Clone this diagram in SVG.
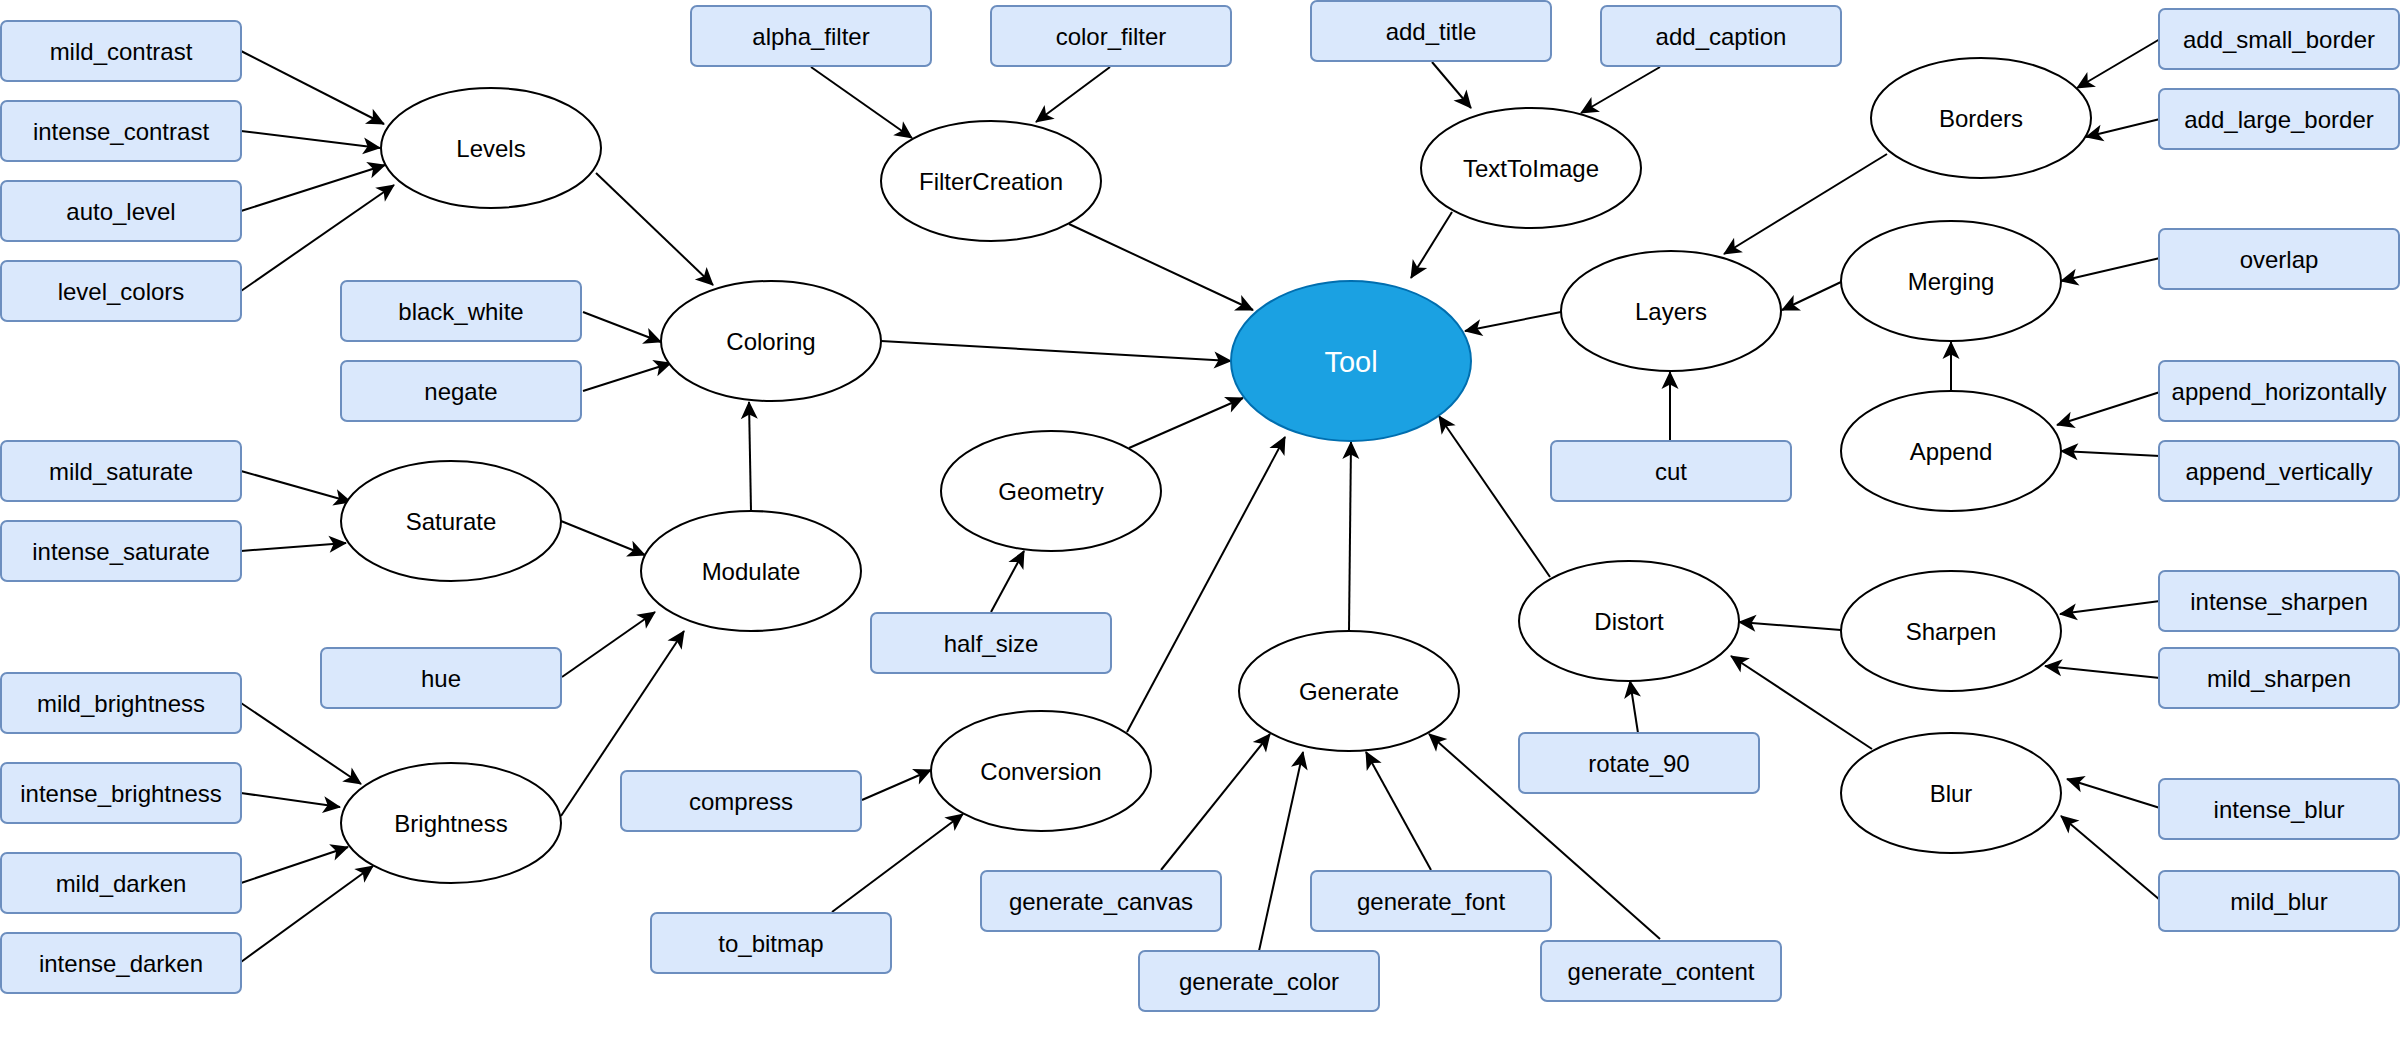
<svg xmlns="http://www.w3.org/2000/svg" width="2400" height="1044" viewBox="0 0 2400 1044">
<defs>
<style>
.box rect{fill:#dae8fc;stroke:#6c8ebf;stroke-width:2}
.ell ellipse{fill:#ffffff;stroke:#000000;stroke-width:2}
text{font-family:"Liberation Sans",Arial,sans-serif;font-size:24px;fill:#000;text-anchor:middle}
#edges line{stroke:#000;stroke-width:2;marker-end:url(#arr)}
#tool ellipse{fill:#1ba1e2;stroke:#006eaf;stroke-width:2}
#tool text{fill:#fff;font-size:29px}
</style>
<marker id="arr" markerUnits="userSpaceOnUse" orient="auto" markerWidth="40" markerHeight="40" refX="0" refY="0" viewBox="-20 -20 40 40" overflow="visible">
<path d="M1,0 L-17,-8.5 L-12.5,0 L-17,8.5 Z" fill="#000"/>
</marker>
</defs>
<rect width="2400" height="1044" fill="#fff"/>
<g id="edges">
<line x1="241" y1="51" x2="384" y2="124"/>
<line x1="241" y1="131" x2="380" y2="148"/>
<line x1="241" y1="211" x2="385" y2="165"/>
<line x1="241" y1="291" x2="394" y2="185"/>
<line x1="596" y1="173" x2="713" y2="285"/>
<line x1="583" y1="312" x2="661" y2="342"/>
<line x1="583" y1="391" x2="671" y2="363"/>
<line x1="751" y1="511" x2="749" y2="402"/>
<line x1="811" y1="67" x2="912" y2="138"/>
<line x1="1110" y1="67" x2="1036" y2="122"/>
<line x1="1069" y1="224" x2="1253" y2="310"/>
<line x1="881" y1="341" x2="1231" y2="361"/>
<line x1="1432" y1="62" x2="1471" y2="108"/>
<line x1="1660" y1="67" x2="1581" y2="113"/>
<line x1="1452" y1="212" x2="1411" y2="278"/>
<line x1="1561" y1="312" x2="1465" y2="331"/>
<line x1="1129" y1="448" x2="1243" y2="398"/>
<line x1="2160" y1="39" x2="2077" y2="88"/>
<line x1="2160" y1="119" x2="2086" y2="137"/>
<line x1="1887" y1="154" x2="1724" y2="254"/>
<line x1="1841" y1="282" x2="1782" y2="310"/>
<line x1="2160" y1="258" x2="2061" y2="281"/>
<line x1="1951" y1="391" x2="1951" y2="342"/>
<line x1="1670" y1="441" x2="1670" y2="372"/>
<line x1="2160" y1="392" x2="2057" y2="425"/>
<line x1="2160" y1="456" x2="2061" y2="451"/>
<line x1="241" y1="471" x2="351" y2="502"/>
<line x1="241" y1="551" x2="346" y2="543"/>
<line x1="561" y1="521" x2="645" y2="555"/>
<line x1="562" y1="677" x2="655" y2="612"/>
<line x1="561" y1="816" x2="684" y2="631"/>
<line x1="241" y1="703" x2="361" y2="784"/>
<line x1="241" y1="793" x2="340" y2="807"/>
<line x1="241" y1="883" x2="348" y2="847"/>
<line x1="241" y1="962" x2="373" y2="866"/>
<line x1="862" y1="800" x2="931" y2="770"/>
<line x1="832" y1="912" x2="963" y2="814"/>
<line x1="991" y1="612" x2="1024" y2="551"/>
<line x1="1127" y1="732" x2="1285" y2="437"/>
<line x1="1349" y1="630" x2="1351" y2="442"/>
<line x1="1550" y1="577" x2="1439" y2="416"/>
<line x1="1161" y1="870" x2="1270" y2="734"/>
<line x1="1259" y1="951" x2="1303" y2="752"/>
<line x1="1431" y1="870" x2="1366" y2="752"/>
<line x1="1660" y1="939" x2="1429" y2="734"/>
<line x1="1841" y1="630" x2="1739" y2="622"/>
<line x1="1872" y1="749" x2="1731" y2="656"/>
<line x1="1638" y1="733" x2="1630" y2="681"/>
<line x1="2160" y1="601" x2="2060" y2="614"/>
<line x1="2160" y1="678" x2="2045" y2="666"/>
<line x1="2160" y1="808" x2="2067" y2="779"/>
<line x1="2160" y1="900" x2="2061" y2="816"/>
</g>
<g id="tool"><ellipse cx="1351" cy="361" rx="120" ry="80"/><text x="1351" y="372">Tool</text></g>
<g id="levels" class="ell"><ellipse cx="491" cy="148" rx="110" ry="60"/><text x="491" y="157">Levels</text></g>
<g id="coloring" class="ell"><ellipse cx="771" cy="341" rx="110" ry="60"/><text x="771" y="350">Coloring</text></g>
<g id="filtercreation" class="ell"><ellipse cx="991" cy="181" rx="110" ry="60"/><text x="991" y="190">FilterCreation</text></g>
<g id="texttoimage" class="ell"><ellipse cx="1531" cy="168" rx="110" ry="60"/><text x="1531" y="177">TextToImage</text></g>
<g id="borders" class="ell"><ellipse cx="1981" cy="118" rx="110" ry="60"/><text x="1981" y="127">Borders</text></g>
<g id="layers" class="ell"><ellipse cx="1671" cy="311" rx="110" ry="60"/><text x="1671" y="320">Layers</text></g>
<g id="merging" class="ell"><ellipse cx="1951" cy="281" rx="110" ry="60"/><text x="1951" y="290">Merging</text></g>
<g id="append" class="ell"><ellipse cx="1951" cy="451" rx="110" ry="60"/><text x="1951" y="460">Append</text></g>
<g id="saturate" class="ell"><ellipse cx="451" cy="521" rx="110" ry="60"/><text x="451" y="530">Saturate</text></g>
<g id="modulate" class="ell"><ellipse cx="751" cy="571" rx="110" ry="60"/><text x="751" y="580">Modulate</text></g>
<g id="brightness" class="ell"><ellipse cx="451" cy="823" rx="110" ry="60"/><text x="451" y="832">Brightness</text></g>
<g id="geometry" class="ell"><ellipse cx="1051" cy="491" rx="110" ry="60"/><text x="1051" y="500">Geometry</text></g>
<g id="conversion" class="ell"><ellipse cx="1041" cy="771" rx="110" ry="60"/><text x="1041" y="780">Conversion</text></g>
<g id="generate" class="ell"><ellipse cx="1349" cy="691" rx="110" ry="60"/><text x="1349" y="700">Generate</text></g>
<g id="distort" class="ell"><ellipse cx="1629" cy="621" rx="110" ry="60"/><text x="1629" y="630">Distort</text></g>
<g id="sharpen" class="ell"><ellipse cx="1951" cy="631" rx="110" ry="60"/><text x="1951" y="640">Sharpen</text></g>
<g id="blur" class="ell"><ellipse cx="1951" cy="793" rx="110" ry="60"/><text x="1951" y="802">Blur</text></g>
<g id="mild_contrast" class="box"><rect x="1" y="21" width="240" height="60" rx="6"/><text x="121" y="60">mild_contrast</text></g>
<g id="intense_contrast" class="box"><rect x="1" y="101" width="240" height="60" rx="6"/><text x="121" y="140">intense_contrast</text></g>
<g id="auto_level" class="box"><rect x="1" y="181" width="240" height="60" rx="6"/><text x="121" y="220">auto_level</text></g>
<g id="level_colors" class="box"><rect x="1" y="261" width="240" height="60" rx="6"/><text x="121" y="300">level_colors</text></g>
<g id="black_white" class="box"><rect x="341" y="281" width="240" height="60" rx="6"/><text x="461" y="320">black_white</text></g>
<g id="negate" class="box"><rect x="341" y="361" width="240" height="60" rx="6"/><text x="461" y="400">negate</text></g>
<g id="alpha_filter" class="box"><rect x="691" y="6" width="240" height="60" rx="6"/><text x="811" y="45">alpha_filter</text></g>
<g id="color_filter" class="box"><rect x="991" y="6" width="240" height="60" rx="6"/><text x="1111" y="45">color_filter</text></g>
<g id="add_title" class="box"><rect x="1311" y="1" width="240" height="60" rx="6"/><text x="1431" y="40">add_title</text></g>
<g id="add_caption" class="box"><rect x="1601" y="6" width="240" height="60" rx="6"/><text x="1721" y="45">add_caption</text></g>
<g id="add_small_border" class="box"><rect x="2159" y="9" width="240" height="60" rx="6"/><text x="2279" y="48">add_small_border</text></g>
<g id="add_large_border" class="box"><rect x="2159" y="89" width="240" height="60" rx="6"/><text x="2279" y="128">add_large_border</text></g>
<g id="overlap" class="box"><rect x="2159" y="229" width="240" height="60" rx="6"/><text x="2279" y="268">overlap</text></g>
<g id="append_horizontally" class="box"><rect x="2159" y="361" width="240" height="60" rx="6"/><text x="2279" y="400">append_horizontally</text></g>
<g id="append_vertically" class="box"><rect x="2159" y="441" width="240" height="60" rx="6"/><text x="2279" y="480">append_vertically</text></g>
<g id="intense_sharpen" class="box"><rect x="2159" y="571" width="240" height="60" rx="6"/><text x="2279" y="610">intense_sharpen</text></g>
<g id="mild_sharpen" class="box"><rect x="2159" y="648" width="240" height="60" rx="6"/><text x="2279" y="687">mild_sharpen</text></g>
<g id="intense_blur" class="box"><rect x="2159" y="779" width="240" height="60" rx="6"/><text x="2279" y="818">intense_blur</text></g>
<g id="mild_blur" class="box"><rect x="2159" y="871" width="240" height="60" rx="6"/><text x="2279" y="910">mild_blur</text></g>
<g id="cut" class="box"><rect x="1551" y="441" width="240" height="60" rx="6"/><text x="1671" y="480">cut</text></g>
<g id="rotate_90" class="box"><rect x="1519" y="733" width="240" height="60" rx="6"/><text x="1639" y="772">rotate_90</text></g>
<g id="generate_content" class="box"><rect x="1541" y="941" width="240" height="60" rx="6"/><text x="1661" y="980">generate_content</text></g>
<g id="generate_font" class="box"><rect x="1311" y="871" width="240" height="60" rx="6"/><text x="1431" y="910">generate_font</text></g>
<g id="generate_color" class="box"><rect x="1139" y="951" width="240" height="60" rx="6"/><text x="1259" y="990">generate_color</text></g>
<g id="generate_canvas" class="box"><rect x="981" y="871" width="240" height="60" rx="6"/><text x="1101" y="910">generate_canvas</text></g>
<g id="half_size" class="box"><rect x="871" y="613" width="240" height="60" rx="6"/><text x="991" y="652">half_size</text></g>
<g id="compress" class="box"><rect x="621" y="771" width="240" height="60" rx="6"/><text x="741" y="810">compress</text></g>
<g id="to_bitmap" class="box"><rect x="651" y="913" width="240" height="60" rx="6"/><text x="771" y="952">to_bitmap</text></g>
<g id="hue" class="box"><rect x="321" y="648" width="240" height="60" rx="6"/><text x="441" y="687">hue</text></g>
<g id="mild_saturate" class="box"><rect x="1" y="441" width="240" height="60" rx="6"/><text x="121" y="480">mild_saturate</text></g>
<g id="intense_saturate" class="box"><rect x="1" y="521" width="240" height="60" rx="6"/><text x="121" y="560">intense_saturate</text></g>
<g id="mild_brightness" class="box"><rect x="1" y="673" width="240" height="60" rx="6"/><text x="121" y="712">mild_brightness</text></g>
<g id="intense_brightness" class="box"><rect x="1" y="763" width="240" height="60" rx="6"/><text x="121" y="802">intense_brightness</text></g>
<g id="mild_darken" class="box"><rect x="1" y="853" width="240" height="60" rx="6"/><text x="121" y="892">mild_darken</text></g>
<g id="intense_darken" class="box"><rect x="1" y="933" width="240" height="60" rx="6"/><text x="121" y="972">intense_darken</text></g>
</svg>
